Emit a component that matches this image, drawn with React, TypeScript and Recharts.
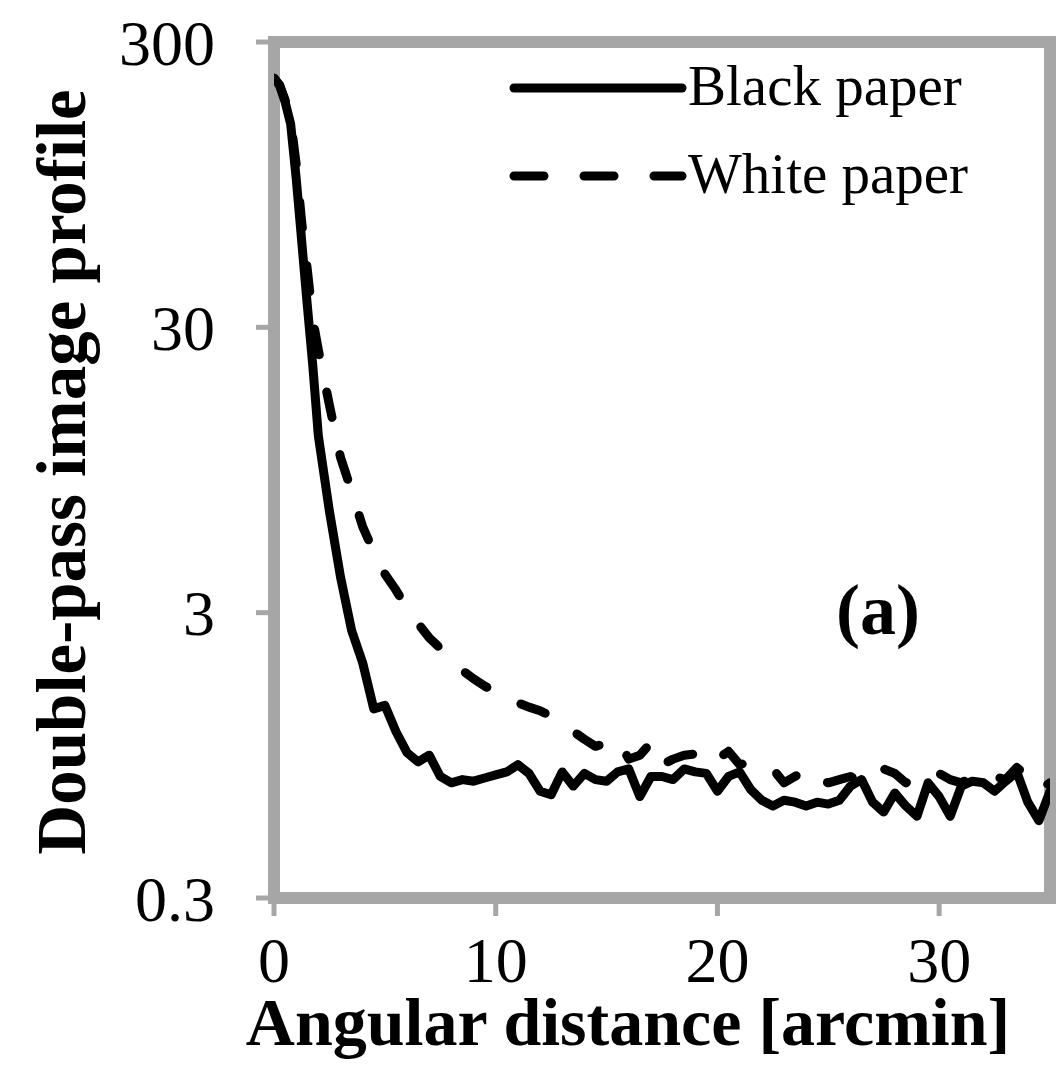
import { LineChart, Line, XAxis, YAxis, ReferenceArea } from 'recharts'

// angular distance [arcmin]
const xArcmin = [
  0, 0.25, 0.5, 0.75, 1, 1.25, 1.5, 1.75, 2,
  2.5, 3, 3.5, 4, 4.5, 5, 5.5, 6, 6.5, 7, 7.5, 8,
  8.5, 9, 9.5, 10, 10.5, 11, 11.5, 12, 12.5, 13, 13.5, 14,
  14.5, 15, 15.5, 16, 16.5, 17, 17.5, 18, 18.5, 19, 19.5, 20,
  20.5, 21, 21.5, 22, 22.5, 23, 23.5, 24, 24.5, 25, 25.5, 26,
  26.5, 27, 27.5, 28, 28.5, 29, 29.5, 30, 30.5, 31, 31.5, 32,
  32.5, 33, 33.5, 34, 34.5, 35,
]

const blackPaper = [
  224, 212, 185, 155, 100, 60, 36, 22, 12.5,
  6.8, 4.0, 2.6, 2.0, 1.38, 1.42, 1.15, 0.97, 0.9, 0.95, 0.8, 0.76,
  0.78, 0.77, 0.79, 0.81, 0.83, 0.88, 0.82, 0.71, 0.69, 0.83, 0.74, 0.82,
  0.78, 0.77, 0.83, 0.85, 0.68, 0.8, 0.8, 0.78, 0.85, 0.83, 0.82, 0.71,
  0.8, 0.83, 0.72, 0.66, 0.63, 0.66, 0.65, 0.63, 0.65, 0.64, 0.66, 0.74,
  0.78, 0.65, 0.6, 0.7, 0.63, 0.58, 0.76, 0.68, 0.58, 0.74, 0.77, 0.76,
  0.71, 0.77, 0.83, 0.65, 0.56, 0.71,
]

const whitePaper = [
  224, 212, 188, 160, 112, 70, 48, 32, 25,
  16, 10.5, 8.0, 6.0, 4.9, 4.1, 3.6, 3.1, 2.75, 2.45, 2.25, 2.05,
  1.88, 1.76, 1.66, 1.58, 1.52, 1.45, 1.4, 1.36, 1.3, 1.22, 1.15, 1.08,
  1.02, 1.05, 1.08, 0.92, 0.95, 1.05, 0.88, 0.92, 0.95, 0.96, 0.88, 0.92,
  0.98, 0.88, 0.9, 0.88, 0.85, 0.76, 0.8, 0.85, 0.78, 0.76, 0.78, 0.8,
  0.76, 0.8, 0.85, 0.82, 0.76, 0.8, 0.78, 0.82, 0.78, 0.76, 0.8, 0.78,
  0.8, 0.78, 0.86, 0.8, 0.72, 0.76,
]

const xTicks = [0, 10, 20, 30]
const yTicks = [0.3, 3, 30, 300]

const data = xArcmin.map((x, i) => ({ x, black: blackPaper[i], white: whitePaper[i] }))

const GRAY = '#a6a6a6'
const SERIF = '"Liberation Serif", "Times New Roman", serif'

export default function App() {
  return (
    <div
      style={{
        position: 'absolute',
        left: 0,
        top: 0,
        width: 1056,
        height: 1074,
        background: '#fff',
        fontFamily: SERIF,
        overflow: 'hidden',
      }}
    >
      <LineChart width={1056} height={1074} data={data} margin={{ top: 42, right: 6, bottom: 76, left: 0 }}>
        <XAxis
          dataKey="x"
          type="number"
          domain={[0, 35]}
          ticks={xTicks}
          allowDataOverflow
          axisLine={false}
          tickLine={{ stroke: GRAY, strokeWidth: 5 }}
          tickSize={18}
          tickMargin={21}
          height={100}
          tick={{ fill: '#000', fontSize: 64, fontFamily: SERIF }}
        />
        <YAxis
          scale="log"
          domain={[0.3, 300]}
          ticks={yTicks}
          allowDataOverflow
          width={274}
          axisLine={false}
          tickLine={{ stroke: GRAY, strokeWidth: 5 }}
          tickSize={18}
          tickMargin={41}
          tickFormatter={(v: number) => String(v)}
          tick={{ fill: '#000', fontSize: 64, fontFamily: SERIF }}
        />
        <ReferenceArea
          x1={0}
          x2={35}
          y1={0.3}
          y2={300}
          fill="none"
          stroke={GRAY}
          strokeWidth={12}
          ifOverflow="visible"
        />
        <Line
          type="linear"
          dataKey="white"
          stroke="#000"
          strokeWidth={9}
          strokeDasharray="26 38"
          strokeLinecap="round"
          strokeLinejoin="round"
          dot={false}
          isAnimationActive={false}
        />
        <Line
          type="linear"
          dataKey="black"
          stroke="#000"
          strokeWidth={9}
          strokeLinecap="round"
          strokeLinejoin="round"
          dot={false}
          isAnimationActive={false}
        />
      </LineChart>

      {/* legend */}
      <svg style={{ position: 'absolute', left: 0, top: 0 }} width={1056} height={220}>
        <line x1={514} y1={88} x2={682} y2={88} stroke="#000" strokeWidth={9} strokeLinecap="round" />
        <line
          x1={514}
          y1={176}
          x2={682}
          y2={176}
          stroke="#000"
          strokeWidth={9}
          strokeLinecap="round"
          strokeDasharray="30 40"
        />
      </svg>
      <div style={{ position: 'absolute', left: 688, top: 57, fontSize: 57, lineHeight: 1, whiteSpace: 'nowrap' }}>
        Black paper
      </div>
      <div style={{ position: 'absolute', left: 688, top: 145, fontSize: 57, lineHeight: 1, whiteSpace: 'nowrap' }}>
        White paper
      </div>

      <div
        style={{ position: 'absolute', left: 836, top: 574, fontSize: 72, fontWeight: 'bold', lineHeight: 1 }}
      >
        (a)
      </div>

      {/* axis titles */}
      <div
        style={{
          position: 'absolute',
          left: 628 - 500,
          top: 988,
          width: 1000,
          textAlign: 'center',
          fontSize: 68,
          fontWeight: 'bold',
          lineHeight: 1,
          whiteSpace: 'nowrap',
        }}
      >
        Angular distance [arcmin]
      </div>
      <div
        style={{
          position: 'absolute',
          left: 62 - 450,
          top: 472 - 34,
          width: 900,
          height: 68,
          textAlign: 'center',
          fontSize: 69,
          fontWeight: 'bold',
          lineHeight: 1,
          whiteSpace: 'nowrap',
          transform: 'rotate(-90deg)',
          transformOrigin: 'center',
        }}
      >
        Double-pass image profile
      </div>
    </div>
  )
}
